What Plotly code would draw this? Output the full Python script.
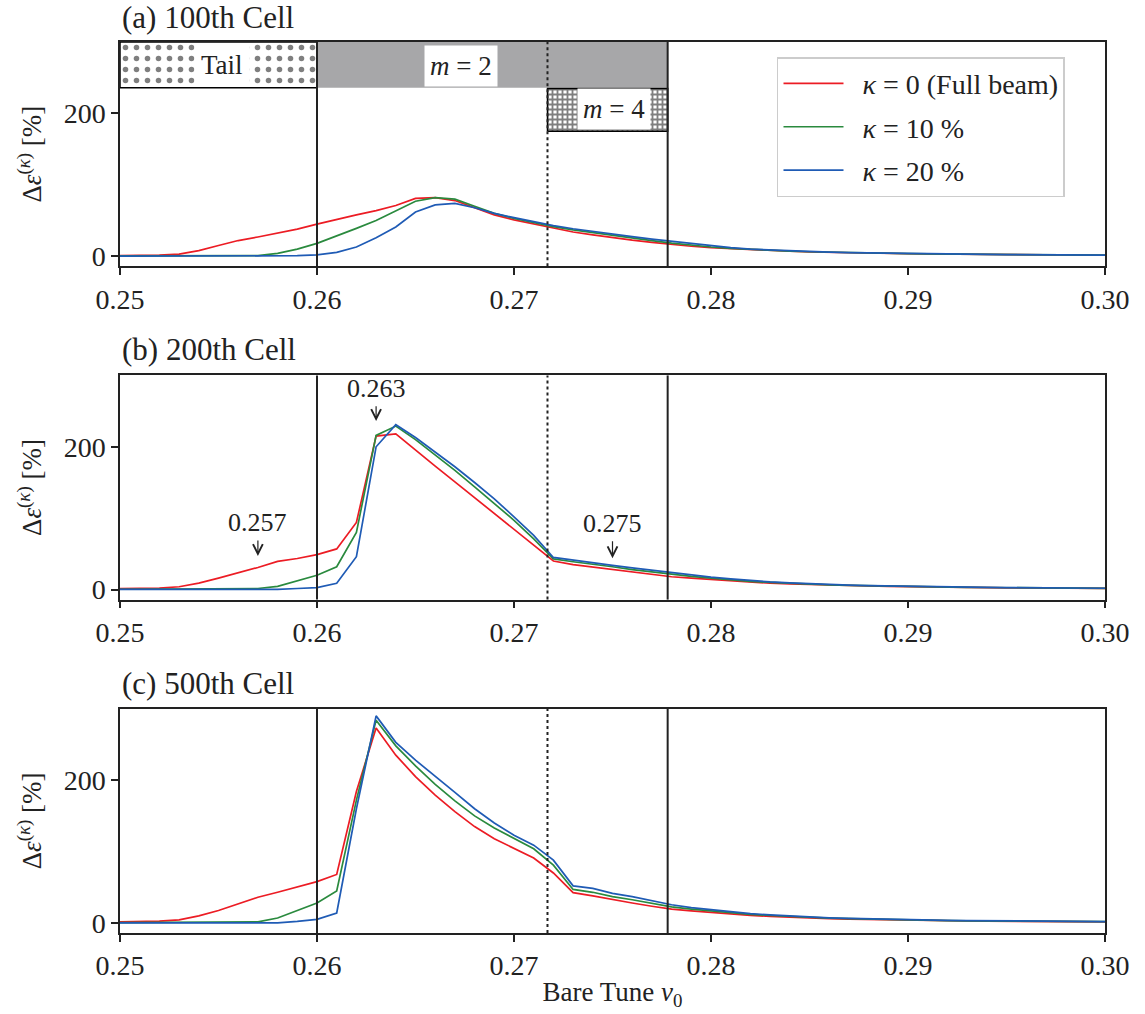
import plotly.graph_objects as go

# ---------------- data ----------------
tune = [round(0.250 + 0.001 * i, 3) for i in range(51)]

# panel (a) 100th cell
a_k0 = [1.0, 1.0, 1.5, 3, 8, 15, 22, 27, 32, 38,
        45, 52, 58, 64, 71, 81, 82, 78, 68, 58,
        51, 45, 39, 34, 30, 26, 22.5, 19.5, 16.5, 14,
        12, 10.5, 9, 8, 7, 6, 5.3, 4.8, 4.3, 3.9,
        3.5, 3.2, 2.9, 2.6, 2.4, 2.2, 2.0, 1.8, 1.6, 1.5, 1.4]
a_k10 = [0.5, 0.5, 0.5, 0.5, 0.5, 0.5, 0.5, 1, 4, 10,
         18, 28, 39, 50, 63, 77, 82, 80, 70, 60,
         53, 47, 41.5, 37, 33, 29, 25.5, 22, 18.5, 15.5,
         13, 11, 9.5, 8.3, 7.2, 6.3, 5.6, 5, 4.5, 4,
         3.6, 3.3, 3.0, 2.7, 2.5, 2.3, 2.1, 1.9, 1.7, 1.6, 1.5]
a_k20 = [0.3, 0.3, 0.3, 0.3, 0.3, 0.3, 0.3, 0.3, 0.3, 0.8,
         2, 5.5, 13, 26, 41, 62, 72, 74, 68, 60,
         54, 48, 43, 38.5, 34.5, 31, 27.5, 24, 21, 17.5,
         14.5, 12, 10, 8.7, 7.5, 6.5, 5.8, 5.2, 4.7, 4.2,
         3.8, 3.4, 3.1, 2.8, 2.6, 2.4, 2.2, 2.0, 1.8, 1.7, 1.6]

# panel (b) 200th cell
b_k0 = [1.5, 1.5, 2, 4, 9, 16, 23, 31, 39.5, 43.5,
        49, 57, 94, 215, 218, 195, 173, 151, 129, 107,
        85, 63, 40, 35, 31.5, 28, 24.5, 21, 18, 16,
        14, 12, 10.5, 9, 8, 7, 6.2, 5.5, 5, 4.5,
        4, 3.6, 3.3, 3.0, 2.7, 2.5, 2.3, 2.1, 1.9, 1.8, 1.7]
b_k10 = [0.5, 0.5, 0.5, 0.5, 0.5, 0.5, 0.5, 1.5, 4.5, 12.5,
         20, 32, 80, 216, 229, 210, 189, 167, 144, 121,
         97, 71, 43, 39, 36, 32, 28, 24.5, 21, 18.5,
         16, 13.5, 11.5, 10, 8.7, 7.6, 6.7, 6, 5.4, 4.8,
         4.3, 3.9, 3.5, 3.2, 2.9, 2.7, 2.5, 2.3, 2.1, 1.9, 1.8]
b_k20 = [0.3, 0.3, 0.3, 0.3, 0.3, 0.3, 0.3, 0.3, 0.3, 1.5,
         2.8, 8.8, 46, 200, 231, 213, 193, 172, 150, 127,
         102, 76, 45, 41, 38, 34, 30.5, 27, 23.5, 20.5,
         17.5, 15, 12.5, 10.7, 9.3, 8.1, 7.1, 6.3, 5.6, 5,
         4.5, 4.0, 3.6, 3.3, 3.0, 2.8, 2.6, 2.4, 2.2, 2.0, 1.9]

# panel (c) 500th cell
c_k0 = [1.5, 1.5, 2.5, 4.5, 10, 17.5, 27, 36, 43, 51,
        58, 68, 184, 273, 235, 205, 179, 156, 135, 118,
        105, 91, 70, 42.5, 38, 32.5, 28, 23.5, 19.5, 17,
        14.8, 12.5, 10.8, 9.3, 8, 7, 6.1, 5.4, 4.8, 4.3,
        3.8, 3.4, 3.1, 2.8, 2.5, 2.3, 2.1, 1.9, 1.8, 1.7, 1.6]
c_k10 = [0.5, 0.5, 0.5, 0.5, 0.5, 0.5, 0.5, 1.5, 7, 17,
         28, 45, 172, 284, 248, 220, 194, 171, 150, 133,
         118, 104, 81, 47, 43, 37, 32.5, 27.5, 22.5, 19.5,
         16.8, 14.2, 12.2, 10.5, 9, 7.8, 6.8, 6, 5.3, 4.7,
         4.2, 3.8, 3.4, 3.1, 2.8, 2.6, 2.4, 2.2, 2.0, 1.9, 1.8]
c_k20 = [0.3, 0.3, 0.3, 0.3, 0.3, 0.3, 0.3, 0.3, 0.3, 2.3,
         5, 14, 160, 290, 253, 228, 206, 183, 160, 140,
         123, 109, 88, 52, 48.5, 41.5, 37, 31, 25.5, 21.5,
         18.5, 15.5, 13.2, 11.3, 9.7, 8.4, 7.3, 6.4, 5.7, 5.1,
         4.6, 4.1, 3.7, 3.4, 3.1, 2.8, 2.6, 2.4, 2.2, 2.0, 1.9]

series_names = ["&nbsp;&nbsp;<i>κ</i> = 0 (Full beam)",
                "&nbsp;&nbsp;<i>κ</i> = 10 %",
                "&nbsp;&nbsp;<i>κ</i> = 20 %"]
series_colors = ["#ec1c24", "#2a8a3e", "#1f5bb5"]
panel_titles = ["(a) 100th Cell", "(b) 200th Cell", "(c) 500th Cell"]
panels = [[a_k0, a_k10, a_k20], [b_k0, b_k10, b_k20], [c_k0, c_k10, c_k20]]

# resonance band boundaries
res_lines_solid = [0.2600, 0.2778]
res_line_dotted = 0.2717
y_range = [-14, 300]

# band boxes in panel (a)
tail_x = [0.250, 0.260]
tail_y = [236, 300]
m2_x = [0.260, 0.2778]
m2_y = [236, 300]
m4_x = [0.2717, 0.2778]
m4_y = [175, 235]

# annotations in panel (b)
marks_b = [0.257, 0.263, 0.275]
marks_b_tip = [47, 236, 44]
marks_b_text = [94, 282, 93]

xticks = [0.25, 0.26, 0.27, 0.28, 0.29, 0.30]
xticklabels = ["0.25", "0.26", "0.27", "0.28", "0.29", "0.30"]
yticks = [0, 200]

# ---------------- figure ----------------
FONT = "Liberation Serif"
INK = "#222"
fig = go.Figure()

domains = [[0.7483, 1.0], [0.3742, 0.6258], [0.0, 0.2517]]
axnames = [("x", "y"), ("x2", "y2"), ("x3", "y3")]


def box(xs, ys):
    return [xs[0], xs[1], xs[1], xs[0], xs[0]], [ys[0], ys[0], ys[1], ys[1], ys[0]]


# boxes (panel a)
bx, by = box(tail_x, tail_y)
fig.add_trace(go.Scatter(x=bx, y=by, mode="lines", fill="toself", fillcolor="white",
                         fillpattern=dict(shape=".", fgcolor="black", bgcolor="white",
                                          size=11, solidity=0.2),
                         line=dict(color="black", width=1.5), showlegend=False,
                         hoverinfo="skip", xaxis="x", yaxis="y"))
bx, by = box(m2_x, m2_y)
fig.add_trace(go.Scatter(x=bx, y=by, mode="lines", fill="toself", fillcolor="#a7a7a9",
                         line=dict(color="#c8c8c8", width=0), showlegend=False,
                         hoverinfo="skip", xaxis="x", yaxis="y"))
bx, by = box(m4_x, m4_y)
fig.add_trace(go.Scatter(x=bx, y=by, mode="lines", fill="toself", fillcolor="white",
                         fillpattern=dict(shape="+", fgcolor="black", bgcolor="white",
                                          size=5, solidity=0.6),
                         line=dict(color="black", width=1.5), showlegend=False,
                         hoverinfo="skip", xaxis="x", yaxis="y"))

for p, (xa, ya) in enumerate(axnames):
    for s in range(3):
        fig.add_trace(go.Scatter(
            x=tune, y=panels[p][s], mode="lines",
            line=dict(color=series_colors[s], width=1.7),
            name=series_names[s], legendgroup=f"g{s}",
            showlegend=(p == 0), xaxis=xa, yaxis=ya))

layout = dict(
    width=1145, height=1014,
    margin=dict(l=120, r=40, t=42, b=74),
    paper_bgcolor="white", plot_bgcolor="white",
    font=dict(family=FONT, size=27, color=INK),
    showlegend=True,
    legend=dict(x=0.667, y=0.983, xanchor="left", yanchor="top",
                bgcolor="white", bordercolor="#cccccc", borderwidth=1.5,
                font=dict(family=FONT, size=28, color=INK), itemwidth=60,
                traceorder="grouped", tracegroupgap=4),
)

for p, (xa, ya) in enumerate(axnames):
    xkey = "xaxis" if p == 0 else f"xaxis{p+1}"
    ykey = "yaxis" if p == 0 else f"yaxis{p+1}"
    layout[xkey] = dict(domain=[0, 1], anchor=ya, range=[0.25, 0.30],
                        tickvals=xticks, ticktext=xticklabels,
                        ticks="outside", ticklen=7, tickwidth=1.5, tickcolor=INK,
                        showline=True, linecolor=INK, linewidth=1.5, mirror=True,
                        showgrid=False, zeroline=False,
                        tickfont=dict(family=FONT, size=28, color=INK))
    layout[ykey] = dict(domain=domains[p], anchor=xa, range=y_range,
                        tickvals=yticks, ticks="outside", ticklen=7, tickwidth=1.5,
                        tickcolor=INK, showline=True, linecolor=INK,
                        linewidth=1.5, mirror=True, showgrid=False, zeroline=False,
                        tickfont=dict(family=FONT, size=28, color=INK),
                        title=dict(text="Δ<i>ε</i><sup>(<i>κ</i>)</sup> [%]",
                                   font=dict(family=FONT, size=27, color=INK),
                                   standoff=14))
layout["xaxis3"]["title"] = dict(text="Bare Tune <i>ν</i><sub>0</sub>",
                                 font=dict(family=FONT, size=27, color=INK),
                                 standoff=2)
fig.update_layout(**layout)

shapes = []
for p, (xa, ya) in enumerate(axnames):
    for xv in res_lines_solid:
        shapes.append(dict(type="line", xref=xa, yref=f"{ya} domain", x0=xv, x1=xv,
                           y0=0, y1=1, line=dict(color=INK, width=2)))
    shapes.append(dict(type="line", xref=xa, yref=f"{ya} domain", x0=res_line_dotted,
                       x1=res_line_dotted, y0=0, y1=1,
                       line=dict(color=INK, width=2, dash="dot")))
fig.update_layout(shapes=shapes)

title_y = [1.0278, 0.6548, 0.2795]
annotations = []
for p in range(3):
    annotations.append(dict(text=panel_titles[p], xref="paper", yref="paper", x=0,
                            y=title_y[p], xanchor="left", yanchor="middle",
                            showarrow=False, font=dict(family=FONT, size=31, color=INK)))

annotations.append(dict(text="Tail", xref="x", yref="y", x=0.2552, y=268,
                        showarrow=False, bgcolor="white", borderpad=6,
                        font=dict(family=FONT, size=27, color=INK)))
annotations.append(dict(text="<i>m</i> = 2", xref="x", yref="y", x=0.2673, y=267,
                        showarrow=False, bgcolor="white", borderpad=5,
                        font=dict(family=FONT, size=27, color=INK)))
annotations.append(dict(text="<i>m</i> = 4", xref="x", yref="y", x=0.2751, y=206,
                        showarrow=False, bgcolor="white", borderpad=5,
                        font=dict(family=FONT, size=27, color=INK)))
for xv, tip, ty in zip(marks_b, marks_b_tip, marks_b_text):
    annotations.append(dict(text=f"{xv:.3f}", xref="x2", yref="y2", x=xv, y=tip,
                            axref="x2", ayref="y2", ax=xv, ay=ty, showarrow=True,
                            arrowhead=5, arrowsize=1.6, arrowwidth=1.2,
                            arrowcolor=INK, standoff=0, startstandoff=2,
                            font=dict(family=FONT, size=26, color=INK)))
fig.update_layout(annotations=annotations)

fig.write_html("out.html")
